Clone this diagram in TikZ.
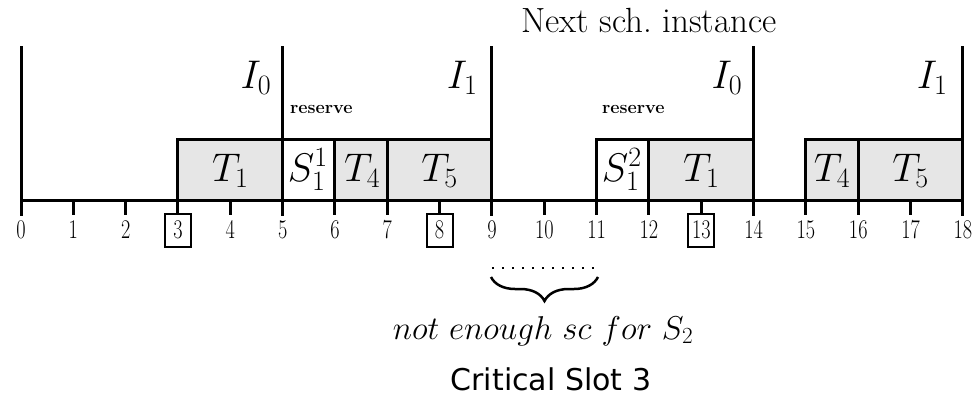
\RequirePackage{fix-cm}
\documentclass[tikz,border=0pt]{standalone}
\usepackage{fontspec}
\newfontfamily\verdanalike{DejaVu Sans}
\usetikzlibrary{decorations.pathreplacing}
\definecolor{boxgray}{RGB}{230,230,230}
\newcommand\X[1]{21+52.33*#1}
\begin{document}
\begin{tikzpicture}[x=1pt,y=-1pt,line width=3pt,
  graybox/.style={fill=boxgray,draw=black,line width=3pt},
  whitebox/.style={fill=white,draw=black,line width=3pt},
  mathlbl/.style={inner sep=0pt,font=\fontsize{40}{46}\selectfont},
  ilbl/.style={inner sep=0pt,anchor=base east,font=\fontsize{40}{46}\selectfont},
  numlbl/.style={inner sep=0pt,anchor=base},
  reslbl/.style={inner sep=0pt,anchor=base west,font=\fontsize{18}{20}\selectfont\bfseries},
  markbox/.style={draw=black,line width=2pt}]
\useasboundingbox (0,0) rectangle (976,399);
% task boxes
\draw[graybox]  ({\X{3}},139) rectangle ({\X{5}},200);
\draw[whitebox] ({\X{5}},139) rectangle ({\X{6}},200);
\draw[graybox]  ({\X{6}},139) rectangle ({\X{7}},200);
\draw[graybox]  ({\X{7}},139) rectangle ({\X{9}},200);
\draw[whitebox] ({\X{11}},139) rectangle ({\X{12}},200);
\draw[graybox]  ({\X{12}},139) rectangle ({\X{14}},200);
\draw[graybox]  ({\X{15}},139) rectangle ({\X{16}},200);
\draw[graybox]  ({\X{16}},139) rectangle ({\X{18}},200);
% instance boundaries
\foreach \v in {0,5,9,14,18} \draw ({\X{\v}},46) -- ({\X{\v}},216);
% axis
\draw ({\X{0}},200) -- ({\X{18}},200);
\foreach \v in {1,2,3,4,6,7,8,10,11,12,13,15,16,17} \draw ({\X{\v}},200) -- ({\X{\v}},215);
% axis numbers
\foreach \v in {0,...,18}
  \node[numlbl] (n\v) at ({\X{\v}},238) {\scalebox{0.75}[1]{\fontsize{27}{27}\selectfont \v}};
\foreach \v in {3,8,13}
  \draw[markbox] ({\X{\v}-13},214) rectangle ({\X{\v}+13},247);
% task labels
\node[mathlbl,anchor=base] (t1a) at ({\X{4}},181) {$T_1$};
\node[mathlbl,anchor=base] (s11) at ({\X{5.5}-1},181) {$S_1^1$};
\node[mathlbl,anchor=base] (t4a) at ({\X{6.5}+1},181) {$T_4$};
\node[mathlbl,anchor=base] (t5a) at ({\X{8}},181) {$T_5$};
\node[mathlbl,anchor=base] (s12) at ({\X{11.5}-1},181) {$S_1^2$};
\node[mathlbl,anchor=base] (t1b) at ({\X{13}},181) {$T_1$};
\node[mathlbl,anchor=base] (t4b) at ({\X{15.5}},181) {$T_4$};
\node[mathlbl,anchor=base] (t5b) at ({\X{17}},181) {$T_5$};
% instance labels
\node[ilbl] (i0a) at ({\X{5}-10},88) {$I_0$};
\node[ilbl] (i1a) at ({\X{9}-13},88) {$I_1$};
\node[ilbl] (i0b) at ({\X{14}-10},88) {$I_0$};
\node[ilbl] (i1b) at ({\X{18}-14},88) {$I_1$};
% reserve labels
\node[reslbl] (ra) at ({\X{5}+6},113) {reserve};
\node[reslbl] (rb) at ({\X{11}+4},113) {reserve};
% top title
\node[inner sep=0pt,anchor=base] (next) at (649,32) {\fontsize{35}{40}\selectfont Next sch.\ instance};
% gap marker
\draw[line width=2.5pt,dash pattern=on 2.5pt off 7.5pt] ({\X{9}},268) -- ({\X{11}+2},268);
\draw[decorate,decoration={brace,mirror,amplitude=24pt,aspect=0.5},line width=2.5pt] (491,277) -- (598,277);
\node[inner sep=0pt,anchor=base] (note) at (543,339) {\fontsize{33}{38}\selectfont $not\ enough\ sc\ for\ S_2$};
\node[inner sep=0pt,anchor=base] (crit) at (551,390) {\verdanalike\fontsize{30}{36}\selectfont Critical Slot 3};
\end{tikzpicture}
\end{document}
